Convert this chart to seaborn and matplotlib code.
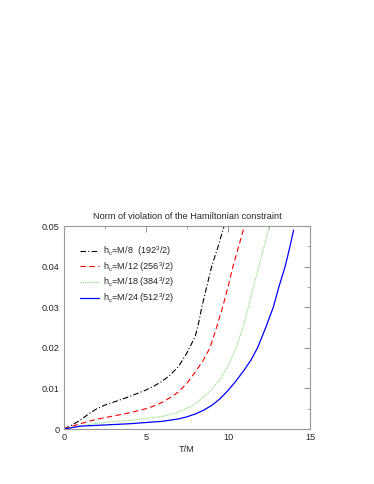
import numpy as np
import pandas as pd
import matplotlib
matplotlib.use("Agg")
import matplotlib.pyplot as plt
from matplotlib.ticker import MultipleLocator
import seaborn as sns

# values
t_m8 = [0, 0.5, 1, 1.5, 2, 2.5, 3, 3.5, 4, 4.5, 5, 5.5, 6, 6.5, 7, 7.5, 8, 8.2, 8.4, 8.7, 9.0, 9.4, 9.76, 10.0]
v_m8 = [0, 0.0010, 0.0022, 0.0037, 0.0050, 0.0059, 0.0066, 0.0073, 0.0080, 0.0088, 0.0096, 0.0106,
        0.0118, 0.0134, 0.0155, 0.0188, 0.0228, 0.026, 0.030, 0.035, 0.040, 0.045, 0.050, 0.054]

t_m12 = [0, 0.5, 1, 1.5, 2, 2.5, 3, 3.5, 4, 4.5, 5, 5.5, 6, 6.5, 7, 7.5, 8, 8.5, 8.9, 9.3, 9.67, 10.0, 10.3, 10.65, 11.0, 11.2]
v_m12 = [0, 0.0007, 0.0013, 0.0019, 0.0024, 0.0028, 0.0032, 0.0036, 0.0040, 0.0045, 0.0050, 0.0057,
         0.0066, 0.0078, 0.0092, 0.0113, 0.0140, 0.0170, 0.020, 0.025, 0.030, 0.035, 0.040, 0.045, 0.050, 0.053]

t_m18 = [0, 1, 2, 3, 4, 5, 6, 6.5, 7, 7.5, 8, 8.5, 9, 9.5, 10, 10.5, 10.9, 11.24, 11.55, 11.87, 12.2, 12.52, 12.7]
v_m18 = [0, 0.0008, 0.0014, 0.0018, 0.0021, 0.0026, 0.0031, 0.0036, 0.0042, 0.0051, 0.0062, 0.0078,
         0.0097, 0.0122, 0.0155, 0.020, 0.025, 0.030, 0.035, 0.040, 0.045, 0.050, 0.053]

t_m24 = [0, 1, 2, 3, 4, 5, 6, 6.5, 7, 7.5, 8, 8.5, 9, 9.5, 10, 10.5, 11, 11.4, 11.8, 12.3, 12.76, 13.1, 13.48, 13.75, 14.0]
v_m24 = [0, 0.0007, 0.0009, 0.0011, 0.0013, 0.0016, 0.0019, 0.0022, 0.0025, 0.0030, 0.0037, 0.0046,
         0.0058, 0.0074, 0.0095, 0.0119, 0.0146, 0.0170, 0.020, 0.025, 0.030, 0.035, 0.040, 0.0445, 0.049]

labels = [r'h$_c$=M/8  (192$^3$/2)', r'h$_c$=M/12 (256$^3$/2)',
          r'h$_c$=M/18 (384$^3$/2)', r'h$_c$=M/24 (512$^3$/2)']

sns.set_style("white")
plt.rcParams['font.family'] = ['Liberation Sans', 'DejaVu Sans']
plt.rcParams['mathtext.default'] = 'regular'
fs = 6.6

fig = plt.figure(figsize=(3.74, 4.84), dpi=100)
ax = fig.add_axes([0.171, 0.1136, 0.658, 0.4194])

series = [(t_m8, v_m8, 'black', (0, (5, 2, 1, 2)), 0.8),
          (t_m12, v_m12, '#ff0000', (0, (5, 3)), 0.8),
          (t_m18, v_m18, '#7ddc6e', (0, (1, 1)), 0.8),
          (t_m24, v_m24, '#0000ff', '-', 0.9)]
for (t, v, c, ls, lw), lab in zip(series, labels):
    df = pd.DataFrame({'T': t, 'v': v})
    sns.lineplot(data=df, x='T', y='v', ax=ax, color=c, linestyle=ls,
                 linewidth=lw, label=lab, sort=False)

ax.set_xlim(0, 15)
ax.set_ylim(0, 0.05)
ax.set_xticks([0, 5, 10, 15])
ax.set_xticklabels(['0', '5', '10', '15'])
ax.xaxis.set_minor_locator(MultipleLocator(2.5))
ax.set_yticks([0, 0.01, 0.02, 0.03, 0.04, 0.05])
ax.set_yticklabels(['0', '0.01', '0.02', '0.03', '0.04', '0.05'])
ax.yaxis.set_minor_locator(MultipleLocator(0.005))
ax.tick_params(which='both', direction='in', top=True, right=True,
               color='#999999', labelsize=fs, pad=3)
ax.tick_params(which='major', length=4)
ax.tick_params(which='minor', length=2)
for s in ax.spines.values():
    s.set_color('#999999')
    s.set_linewidth(0.8)

ax.set_xlabel('T/M', fontsize=fs, labelpad=2)
ax.set_ylabel('')
ax.set_title('Norm of violation of the Hamiltonian constraint', fontsize=fs, pad=5)

ax.legend(loc='upper left', bbox_to_anchor=(0.03, 0.95), frameon=False,
          handlelength=2.1, handletextpad=0.5, labelspacing=0.2, fontsize=fs)

fig.savefig('out.png', dpi=100)
